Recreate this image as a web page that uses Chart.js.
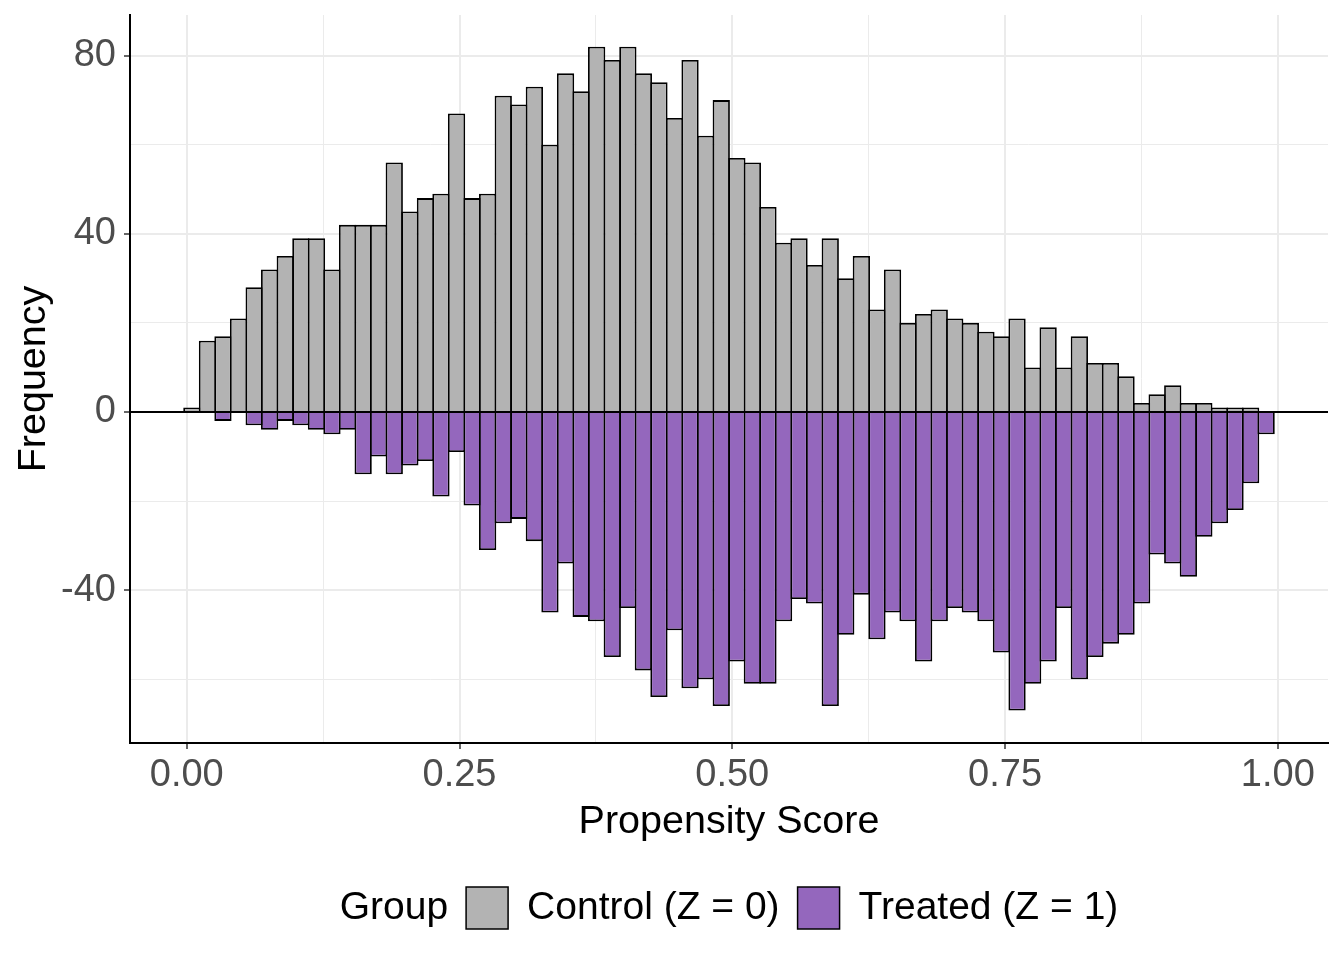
<!DOCTYPE html>
<html>
<head>
<meta charset="utf-8">
<script src="https://cdn.jsdelivr.net/npm/chart.js@4.4.1/dist/chart.umd.min.js"></script>
<style>
  html, body { margin: 0; padding: 0; background: #ffffff; }
  #wrap { width: 1344px; height: 960px; position: relative; }
</style>
</head>
<body>
<div id="wrap"><canvas id="c"></canvas></div>
<script>
// ---- Data ----
const binCenters = [
  0.0047, 0.0190, 0.0332, 0.0475, 0.0618, 0.0760, 0.0903, 0.1046, 0.1189, 0.1331,
  0.1474, 0.1617, 0.1759, 0.1902, 0.2045, 0.2188, 0.2330, 0.2473, 0.2616, 0.2758,
  0.2901, 0.3044, 0.3186, 0.3329, 0.3472, 0.3615, 0.3757, 0.3900, 0.4043, 0.4185,
  0.4328, 0.4471, 0.4613, 0.4756, 0.4899, 0.5042, 0.5184, 0.5327, 0.5470, 0.5612,
  0.5755, 0.5898, 0.6040, 0.6183, 0.6326, 0.6469, 0.6611, 0.6754, 0.6897, 0.7039,
  0.7182, 0.7325, 0.7467, 0.7610, 0.7753, 0.7895, 0.8038, 0.8181, 0.8324, 0.8466,
  0.8609, 0.8752, 0.8894, 0.9037, 0.9180, 0.9322, 0.9465, 0.9608, 0.9751, 0.9893
];
const controlCounts = [
  1, 16, 17, 21, 28, 32, 35, 39, 39, 32,
  42, 42, 42, 56, 45, 48, 49, 67, 48, 49,
  71, 69, 73, 60, 76, 72, 82, 79, 82, 76,
  74, 66, 79, 62, 70, 57, 56, 46, 38, 39,
  33, 39, 30, 35, 23, 32, 20, 22, 23, 21,
  20, 18, 17, 21, 10, 19, 10, 17, 11, 11,
  8, 2, 4, 6, 2, 2, 1, 1, 1, 0
];
const treatedCounts = [
  0, 0, -2, 0, -3, -4, -2, -3, -4, -5,
  -4, -14, -10, -14, -12, -11, -19, -9, -21, -31,
  -25, -24, -29, -45, -34, -46, -47, -55, -44, -58,
  -64, -49, -62, -60, -66, -56, -61, -61, -47, -42,
  -43, -66, -50, -41, -51, -45, -47, -56, -47, -44,
  -45, -47, -54, -67, -61, -56, -44, -60, -55, -52,
  -50, -43, -32, -34, -37, -28, -25, -22, -16, -5
];
const xMajorTicks = [0, 0.25, 0.5, 0.75, 1];
const xMinorTicks = [0.125, 0.375, 0.625, 0.875];
const yMajorTicks = [-40, 0, 40, 80];
const yMinorTicks = [-60, -20, 20, 60];
const seriesLabels = ['Control (Z = 0)', 'Treated (Z = 1)'];
const seriesColors = ['#B3B3B3', '#9467BD'];
const legendTitle = 'Group';
const xTitle = 'Propensity Score';
const yTitle = 'Frequency';

// ---- Styling ----
const FONT = "'Liberation Sans', Arial, Helvetica, sans-serif";
Chart.defaults.font.family = FONT;

const xAllTicks = xMajorTicks.concat(xMinorTicks).sort((a, b) => a - b);
const yAllTicks = yMajorTicks.concat(yMinorTicks).sort((a, b) => a - b);

const zeroLinePlugin = {
  id: 'zeroLine',
  afterDatasetsDraw(chart) {
    const { ctx, chartArea, scales } = chart;
    const y = scales.y.getPixelForValue(0);
    ctx.save();
    ctx.strokeStyle = '#000000';
    ctx.lineWidth = 2;
    ctx.beginPath();
    ctx.moveTo(chartArea.left, y);
    ctx.lineTo(chartArea.right, y);
    ctx.stroke();
    ctx.restore();
  }
};

const legendPlugin = {
  id: 'ggLegend',
  afterDraw(chart) {
    const { ctx, chartArea } = chart;
    ctx.save();
    ctx.font = '39px ' + FONT;
    ctx.textBaseline = 'middle';
    ctx.textAlign = 'left';
    const box = 42, gapTitle = 18, gapText = 19, gapItem = 18;
    const items = chart.data.datasets.map(d => ({ label: d.label, fill: d.backgroundColor }));
    const titleW = ctx.measureText(legendTitle).width;
    let total = titleW + gapTitle;
    items.forEach((it, i) => {
      it.w = ctx.measureText(it.label).width;
      total += box + gapText + it.w + (i < items.length - 1 ? gapItem : 0);
    });
    let x = (chartArea.left + chartArea.right) / 2 - total / 2;
    const cy = chart.height - 52;
    ctx.fillStyle = '#000000';
    ctx.fillText(legendTitle, x, cy);
    x += titleW + gapTitle;
    items.forEach(it => {
      ctx.fillStyle = it.fill;
      ctx.fillRect(x, cy - box / 2, box, box);
      ctx.strokeStyle = '#000000';
      ctx.lineWidth = 1.5;
      ctx.strokeRect(x, cy - box / 2, box, box);
      x += box + gapText;
      ctx.fillStyle = '#000000';
      ctx.fillText(it.label, x, cy);
      x += it.w + gapItem;
    });
    ctx.restore();
  }
};

const makeData = (vals) => binCenters.map((c, i) => ({ x: c, y: vals[i] }));

const barStyle = {
  borderColor: '#000000',
  borderWidth: 1.8,
  borderSkipped: 'start',
  grouped: false,
  barPercentage: 1.115,
  categoryPercentage: 1.0
};

new Chart(document.getElementById('c'), {
  type: 'bar',
  data: {
    datasets: [
      Object.assign({ label: seriesLabels[0], data: makeData(controlCounts), backgroundColor: seriesColors[0] }, barStyle),
      Object.assign({ label: seriesLabels[1], data: makeData(treatedCounts), backgroundColor: seriesColors[1] }, barStyle)
    ]
  },
  options: {
    responsive: true,
    maintainAspectRatio: false,
    animation: false,
    layout: { padding: { left: 0, right: 16, top: 15, bottom: 107 } },
    plugins: {
      legend: { display: false },
      tooltip: { enabled: false }
    },
    scales: {
      x: {
        type: 'linear',
        min: -0.052,
        max: 1.046,
        offset: false,
        afterBuildTicks: (s) => { s.ticks = xAllTicks.map(v => ({ value: v })); },
        afterFit: (s) => { s.height = 110; s.paddingLeft = 0; s.paddingRight = 0; },
        ticks: {
          autoSkip: false,
          maxRotation: 0,
          padding: 4,
          color: '#4D4D4D',
          font: { size: 38 },
          callback: (v) => xMajorTicks.includes(v) ? Number(v).toFixed(2) : ''
        },
        grid: {
          offset: false,
          color: '#EBEBEB',
          lineWidth: (ctx) => (ctx.tick && xMajorTicks.includes(ctx.tick.value)) ? 2 : 1,
          tickLength: 6,
          tickWidth: 1.5,
          tickColor: (ctx) => (ctx.tick && xMajorTicks.includes(ctx.tick.value)) ? '#333333' : 'rgba(0,0,0,0)'
        },
        border: { display: true, color: '#000000', width: 2 },
        title: {
          display: true,
          text: xTitle,
          color: '#000000',
          font: { size: 39.5 },
          padding: { top: 0, bottom: 7 }
        }
      },
      y: {
        type: 'linear',
        min: -74.3,
        max: 89.1,
        afterBuildTicks: (s) => { s.ticks = yAllTicks.map(v => ({ value: v })); },
        afterFit: (s) => { s.width = 130; s.paddingTop = 0; s.paddingBottom = 0; },
        ticks: {
          autoSkip: false,
          padding: 8,
          color: '#4D4D4D',
          font: { size: 38 },
          callback: (v) => yMajorTicks.includes(v) ? String(v) : ''
        },
        grid: {
          color: '#EBEBEB',
          lineWidth: (ctx) => (ctx.tick && yMajorTicks.includes(ctx.tick.value)) ? 2 : 1,
          tickLength: 6,
          tickWidth: 1.5,
          tickColor: (ctx) => (ctx.tick && yMajorTicks.includes(ctx.tick.value)) ? '#333333' : 'rgba(0,0,0,0)'
        },
        border: { display: true, color: '#000000', width: 2 },
        title: {
          display: true,
          text: yTitle,
          color: '#000000',
          font: { size: 39.5 },
          padding: { top: 10, bottom: 0 }
        }
      }
    }
  },
  plugins: [zeroLinePlugin, legendPlugin]
});
</script>
</body>
</html>
